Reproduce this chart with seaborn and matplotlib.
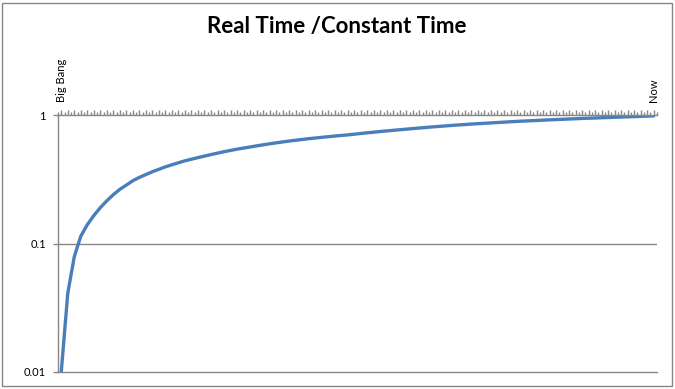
import numpy as np
import pandas as pd
import matplotlib
matplotlib.use("Agg")
import matplotlib.pyplot as plt
from matplotlib.patches import Rectangle
import seaborn as sns

# ---- data ----
ratio = [
    0.010, 0.041, 0.079, 0.114, 0.140, 0.165, 0.190, 0.215, 0.240, 0.264,
    0.285, 0.308, 0.327, 0.344, 0.362, 0.378, 0.395, 0.410, 0.425, 0.440,
    0.453, 0.466, 0.479, 0.492, 0.505, 0.518, 0.530, 0.542, 0.553, 0.564,
    0.575, 0.586, 0.597, 0.607, 0.617, 0.627, 0.636, 0.645, 0.654, 0.662,
    0.670, 0.678, 0.686, 0.693, 0.700, 0.709, 0.718, 0.727, 0.735, 0.744,
    0.752, 0.760, 0.768, 0.776, 0.784, 0.792, 0.800, 0.808, 0.815, 0.822,
    0.830, 0.837, 0.843, 0.850, 0.856, 0.862, 0.868, 0.874, 0.880, 0.886,
    0.892, 0.897, 0.902, 0.907, 0.912, 0.917, 0.921, 0.926, 0.931, 0.935,
    0.940, 0.944, 0.948, 0.952, 0.956, 0.960, 0.964, 0.968, 0.972, 0.976,
    0.980, 0.985,
]
categories = list(range(len(ratio)))
cat_labels = ["Big Bang"] + [""] * (len(ratio) - 2) + ["Now"]
y_ticks = [0.01, 0.1, 1]
y_labels = ["0.01", "0.1", "1"]
title = "Real Time /Constant Time"

df = pd.DataFrame({"cat": categories, "ratio": ratio})

sns.set_theme(style="white")
plt.rcParams["font.family"] = ["Lato", "DejaVu Sans"]

W, H = 675, 389
fig = plt.figure(figsize=(W / 100, H / 100), dpi=100)
ax = fig.add_axes([58 / W, (H - 372) / H, (657 - 58) / W, (372 - 115) / H])

grey = "#868686"
sns.lineplot(data=df, x="cat", y="ratio", ax=ax, color="#4A7EBB", linewidth=2.4)

ax.set_yscale("log")
ax.set_ylim(0.01, 1)
ax.set_xlim(-0.5, len(ratio) - 0.5)
ax.set_yticks(y_ticks)
ax.set_yticklabels(y_labels)
ax.yaxis.set_minor_locator(matplotlib.ticker.NullLocator())
ax.axhline(0.1, color=grey, lw=1, zorder=0)

ax.xaxis.tick_top()
ax.set_xticks(categories)
ax.set_xticklabels(cat_labels, rotation=90)
ax.set_xticks(np.arange(len(ratio) + 1) - 0.5, minor=True)
ax.tick_params(axis="x", which="major", direction="out", length=3.6, width=1,
               color=grey, pad=6, labelsize=8, labelcolor="black")
ax.tick_params(axis="x", which="minor", direction="out", length=2.2, width=1,
               color=grey, top=True, bottom=False)
ax.tick_params(axis="y", which="major", direction="out", length=3.6, width=1,
               color=grey, pad=5, labelsize=8, labelcolor="black", left=True)
ax.set_xlabel("")
ax.set_ylabel("")

for side in ["left", "top", "bottom"]:
    ax.spines[side].set_color(grey)
    ax.spines[side].set_linewidth(1)
ax.spines["right"].set_visible(False)

fig.text(337 / W, 1 - 27 / H, title, ha="center", va="center",
         fontsize=16, fontweight="bold", color="black")

fig.patches.append(Rectangle((1.5 / W, 3 / H), (672 - 1.5) / W, (386 - 3) / H,
                             transform=fig.transFigure, fill=False,
                             edgecolor=grey, lw=1))

fig.savefig("out.png", dpi=100)
